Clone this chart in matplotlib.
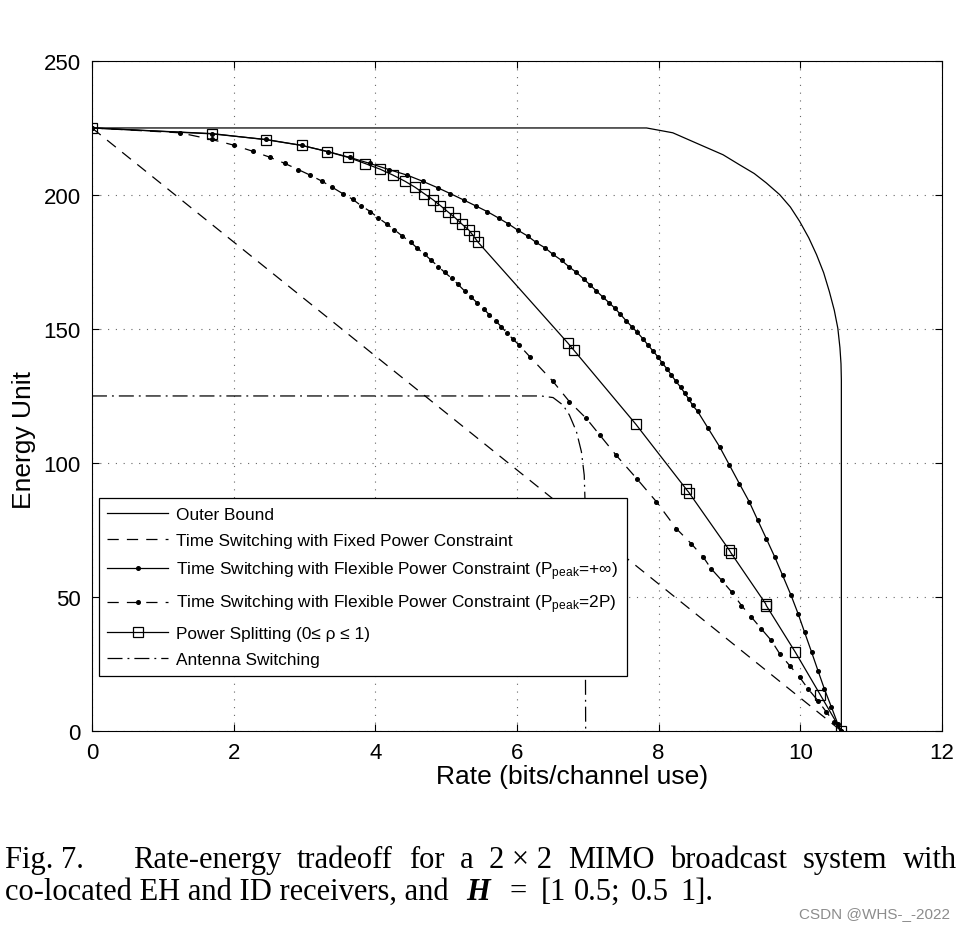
import matplotlib
matplotlib.use("Agg")
import matplotlib.pyplot as plt

plt.rcParams['font.family'] = ['Liberation Sans', 'DejaVu Sans']
plt.rcParams['mathtext.fontset'] = 'custom'
plt.rcParams['mathtext.rm'] = 'Liberation Sans'
plt.rcParams['mathtext.it'] = 'Liberation Sans:italic'
plt.rcParams['mathtext.bf'] = 'Liberation Sans:bold'

# outer bound
ob_rate = [0, 7.83, 8.20, 8.58, 8.91, 9.14, 9.35, 9.52, 9.71, 9.86, 9.99, 10.12, 10.23, 10.33,
           10.41, 10.48, 10.53, 10.56, 10.575, 10.58, 10.58]
ob_energy = [225, 225, 223.2, 218.8, 215.0, 211.3, 208.0, 204.5, 200.1, 195.5, 190.2, 184.0, 177.7,
             171.0, 164.0, 157.0, 150.3, 143.0, 137.0, 131.0, 0]

# time switching, fixed power constraint
tsf_rate = [0, 10.58]
tsf_energy = [225, 0]

# time switching, flexible power, Ppeak = +inf
tsi_rate = [0, 1.69, 2.46, 2.96, 3.33, 3.64, 3.92, 4.19, 4.45, 4.67, 4.88, 5.06, 5.25, 5.42, 5.58,
            5.74, 5.88, 6.01, 6.15, 6.27, 6.40, 6.51, 6.63, 6.73, 6.84, 6.94, 7.03, 7.12, 7.21, 7.30,
            7.38, 7.46, 7.54, 7.62, 7.70, 7.78, 7.85, 7.92, 7.99, 8.05, 8.12, 8.18, 8.24, 8.31, 8.37,
            8.43, 8.48, 8.55, 8.70, 8.86, 9.00, 9.14, 9.28, 9.40, 9.52, 9.64, 9.75, 9.87, 9.97, 10.06,
            10.16, 10.25, 10.34, 10.44, 10.53, 10.58]
tsi_energy = [225, 222.8, 220.7, 218.5, 216.2, 214.0, 211.8, 209.5, 207.4, 205.1, 202.7, 200.5, 198.1,
              195.9, 193.8, 191.4, 189.2, 186.9, 184.7, 182.3, 180.2, 177.8, 175.6, 173.3, 171.1, 168.7,
              166.5, 164.2, 162.0, 159.8, 157.8, 155.5, 153.1, 150.9, 148.7, 146.3, 144.0, 141.8, 139.6,
              137.3, 135.1, 132.8, 130.6, 128.3, 126.0, 123.7, 121.5, 119.3, 112.9, 106.1, 99.2, 92.3,
              85.5, 78.6, 71.8, 64.9, 58.1, 50.6, 43.7, 36.9, 29.4, 22.5, 15.7, 8.9, 2.6, 0]

# time switching, flexible power, Ppeak = 2P
ts2_rate = [0, 1.24, 1.69, 2.00, 2.27, 2.51, 2.72, 2.91, 3.08, 3.25, 3.39, 3.54, 3.68, 3.80, 3.93,
            4.04, 4.16, 4.27, 4.38, 4.50, 4.59, 4.70, 4.79, 4.89, 4.98, 5.08, 5.17, 5.26, 5.35, 5.44,
            5.53, 5.61, 5.70, 5.78, 5.86, 5.94, 6.03, 6.18, 6.51, 6.74, 6.98, 7.17, 7.40, 7.69, 7.97,
            8.25, 8.46, 8.63, 8.74, 8.89, 9.03, 9.17, 9.31, 9.45, 9.59, 9.71, 9.85, 9.99, 10.11, 10.25,
            10.37, 10.48, 10.58]
ts2_energy = [225, 223.2, 220.7, 218.6, 216.3, 214.1, 211.8, 209.5, 207.4, 205.1, 202.9, 200.5, 198.4,
              196.0, 193.8, 191.5, 189.2, 187.0, 184.7, 182.4, 180.2, 177.8, 175.6, 173.3, 171.1, 168.9,
              166.6, 164.2, 162.0, 159.7, 157.5, 155.3, 153.0, 150.8, 148.5, 146.3, 144.0, 139.7, 130.4,
              122.9, 116.6, 110.4, 102.9, 94.2, 85.5, 75.5, 69.9, 64.9, 60.6, 56.2, 51.9, 46.8, 42.5,
              38.1, 33.8, 28.8, 24.4, 20.1, 15.7, 11.3, 7.0, 3.3, 0]

# power splitting
ps_rate = [0, 1.70, 2.46, 2.96, 3.32, 3.62, 3.86, 4.07, 4.25, 4.42, 4.56, 4.69, 4.81, 4.92, 5.03,
           5.13, 5.22, 5.32, 5.39, 5.45, 6.72, 6.80, 7.68, 8.39, 8.43, 9.00, 9.02, 9.51, 9.52, 9.93,
           10.28, 10.58]
ps_energy = [225, 222.9, 220.6, 218.5, 216.2, 214.0, 211.7, 209.6, 207.4, 205.1, 202.9, 200.5, 198.3,
             196.0, 193.6, 191.4, 189.2, 186.9, 184.6, 182.4, 144.7, 142.2, 114.4, 90.2, 88.9, 67.4,
             66.5, 47.5, 46.8, 29.4, 13.6, 0]

# antenna switching
as_rate = [0, 6.34, 6.51, 6.65, 6.74, 6.84, 6.91, 6.95, 6.96, 6.97]
as_energy = [125, 125, 124.4, 121.6, 117.9, 111.7, 104.2, 95.4, 86.7, 0]

labels = ['Outer Bound',
          'Time Switching with Fixed Power Constraint',
          r'Time Switching with Flexible Power Constraint (P$_{\mathrm{peak}}$=+∞)',
          r'Time Switching with Flexible Power Constraint (P$_{\mathrm{peak}}$=2P)',
          'Power Splitting (0≤ ρ ≤ 1)',
          'Antenna Switching']

caption1_head = 'Fig. 7.'
caption1_words = ['Rate-energy', 'tradeoff', 'for', 'a', '2 \u00d7 2', 'MIMO', 'broadcast', 'system', 'with']
caption2_text = 'co-located EH and ID receivers, and'
caption2_math = [('H', 466), ('=', 509), ('[1', 541), ('0.5;', 574), ('0.5', 631), ('1].', 680)]

fig = plt.figure(figsize=(9.65, 9.29), dpi=100)
ax = fig.add_axes([0.0953, 0.2121, 0.8808, 0.7212])

lw = 0.9
ax.plot(ob_rate, ob_energy, color='black', lw=lw, label=labels[0])
ax.plot(tsf_rate, tsf_energy, color='black', lw=lw, dashes=(9, 6.5), label=labels[1])
ax.plot(tsi_rate, tsi_energy, color='black', lw=lw, marker='o', ms=2.6, label=labels[2])
ax.plot(ts2_rate, ts2_energy, color='black', lw=lw, dashes=(9, 6.5), marker='o', ms=2.6,
        label=labels[3])
ax.plot(ps_rate, ps_energy, color='black', lw=lw, marker='s', ms=7.5, mfc='none', mec='black',
        mew=0.9, label=labels[4])
ax.plot(as_rate, as_energy, color='black', lw=lw, dashes=(12, 4, 1.5, 4), label=labels[5])

ax.set_xlim(0, 12)
ax.set_ylim(0, 250)
ax.set_xticks(range(0, 13, 2))
ax.set_yticks(range(0, 251, 50))
ax.grid(True, color='0.4', lw=0.8, linestyle=(0, (1, 6)))
ax.tick_params(direction='in', length=5, top=True, right=True, labelsize=16, pad=8)
for s in ax.spines.values():
    s.set_linewidth(0.8)

ax.set_xlabel('Rate (bits/channel use)', fontsize=19)
ax.set_ylabel('Energy Unit', fontsize=19)
ax.xaxis.set_label_coords(0.565, -0.049)
ax.yaxis.set_label_coords(-0.066, 0.436)

leg = ax.legend(loc='lower left', bbox_to_anchor=(0.008, 0.082), borderaxespad=0, fontsize=12.4,
                numpoints=1, handlelength=3.5, handletextpad=0.5, labelspacing=0.64,
                fancybox=False, framealpha=1, edgecolor='black', borderpad=0.5)
leg.get_frame().set_linewidth(0.9)

# caption, line 1 justified between fixed margins
serif = 'Liberation Serif'
cfs = 22
W, H = 965.0, 929.0
renderer = fig.canvas.get_renderer()
y1 = 1 - 868 / H
y2 = 1 - 900 / H
fig.text(5 / W, y1, caption1_head, family=serif, fontsize=cfs, va='baseline', ha='left')
texts = [fig.text(0, y1, w, family=serif, fontsize=cfs, va='baseline', ha='left')
         for w in caption1_words]
widths = [t.get_window_extent(renderer).width for t in texts]
left, right = 133.0, 957.0
gap = (right - left - sum(widths)) / (len(texts) - 1)
x = left
for t, w in zip(texts, widths):
    t.set_x(x / W)
    x += w + gap

# caption, line 2
fig.text(5 / W, y2, caption2_text, family=serif, fontsize=cfs, va='baseline', ha='left')
for piece, px in caption2_math:
    kw = dict(weight='bold', style='italic') if piece == 'H' else {}
    fig.text(px / W, y2, piece, family=serif, fontsize=cfs, va='baseline', ha='left', **kw)

fig.text(950 / W, 1 - 918 / H, 'CSDN @WHS-_-2022', fontsize=11, color='0.55', ha='right',
         va='baseline')

fig.savefig('out.png', dpi=100)
